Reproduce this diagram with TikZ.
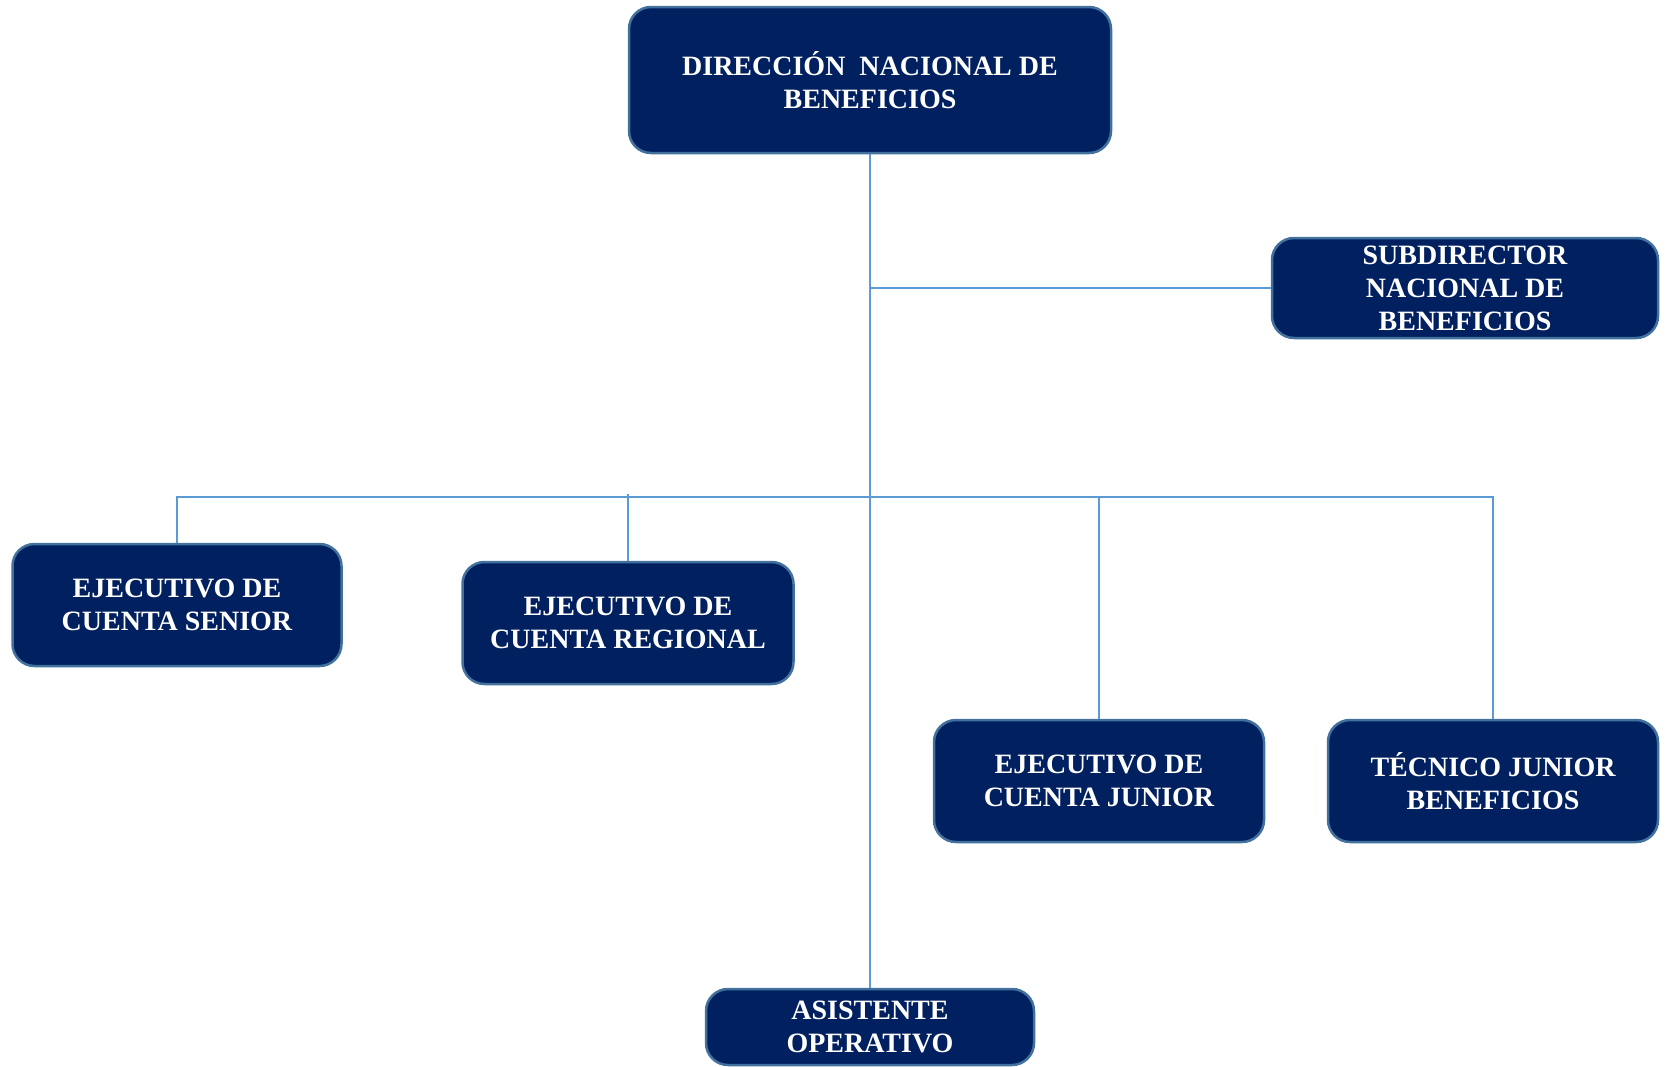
\documentclass[tikz,border=0pt]{standalone}
\usepackage{fontspec}
\setmainfont{Liberation Serif}
\usepackage{tikz}

\definecolor{navy}{HTML}{002060}
\definecolor{edge}{HTML}{41719C}
\definecolor{wire}{HTML}{5B9BD5}

\tikzset{
	cargo/.style={draw=edge, line width=2.5pt, fill=navy, rounded corners=22pt,
		text=white, align=center, font=\fontsize{28}{33}\selectfont\bfseries,
		inner sep=0pt},
	conn/.style={draw=wire, line width=1.5pt}
}

\begin{document}
\begin{tikzpicture}[x=1pt,y=-1pt]
	
	\useasboundingbox (0,0) rectangle (1665,1066);
	
	\node[cargo, minimum width=482pt, minimum height=146pt] (dir) at (870,80) {DIRECCI\'ON\ \ NACIONAL DE\\BENEFICIOS};
	\node[cargo, minimum width=386pt, minimum height=100pt] (sub) at (1465,288) {SUBDIRECTOR\\NACIONAL DE\\BENEFICIOS};
	\node[cargo, minimum width=329pt, minimum height=122pt] (senior) at (177,605) {EJECUTIVO DE\\CUENTA SENIOR};
	\node[cargo, minimum width=331pt, minimum height=122pt] (regional) at (628,623) {EJECUTIVO DE\\CUENTA REGIONAL};
	\node[cargo, minimum width=330pt, minimum height=122pt] (junior) at (1099,781) {EJECUTIVO DE\\CUENTA JUNIOR};
	\node[cargo, minimum width=330pt, minimum height=122pt] (tecnico) at (1493,781) {T\'ECNICO JUNIOR\\BENEFICIOS};
	\node[cargo, minimum width=328pt, minimum height=76pt] (asistente) at (870,1027) {ASISTENTE\\OPERATIVO};
	
	\coordinate (bus) at (870,497);
	
	\draw[conn] (dir.south) -- (asistente.north);
	\draw[conn] (dir.south |- sub.west) -- (sub.west);
	\draw[conn] (senior.north) -- (senior.north |- bus) -- (tecnico.north |- bus) -- (tecnico.north);
	\draw[conn] (regional.north) -- ([yshift=3pt]regional.north |- bus);
	\draw[conn] (junior.north) -- (junior.north |- bus);
	
\end{tikzpicture}
\end{document}
